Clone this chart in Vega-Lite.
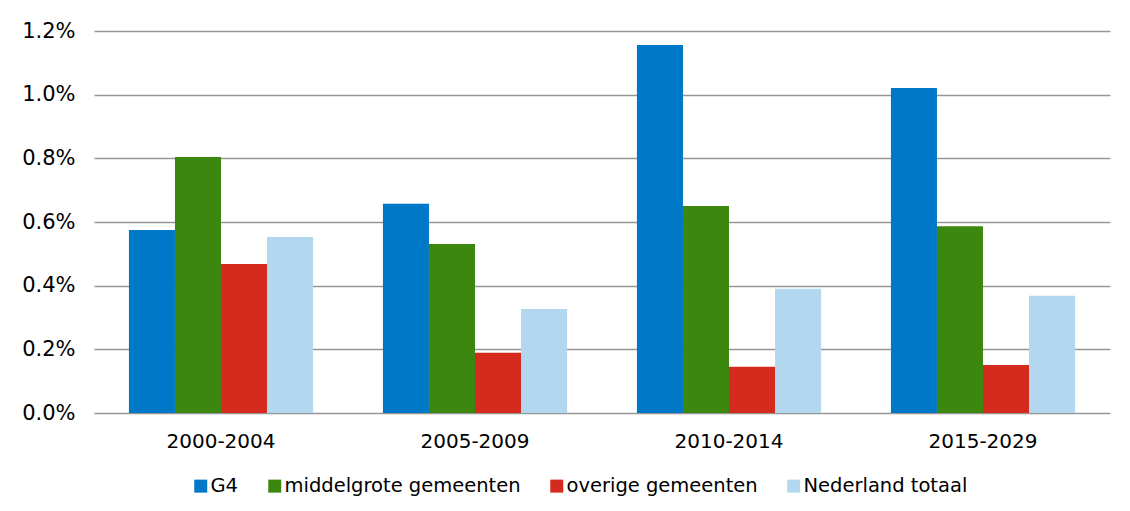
{
  "$schema": "https://vega.github.io/schema/vega-lite/v6.json",
  "width": 1016,
  "height": 382,
  "autosize": {"type": "none"},
  "padding": {"left": 94, "top": 31, "right": 20, "bottom": 98},
  "background": "white",
  "config": {
    "font": "DejaVu Sans",
    "view": {"stroke": null}
  },
  "data": {
    "values": [
      {"period": "2000-2004", "series": "G4", "value": 0.00575},
      {"period": "2000-2004", "series": "middelgrote gemeenten", "value": 0.00804},
      {"period": "2000-2004", "series": "overige gemeenten", "value": 0.00468},
      {"period": "2000-2004", "series": "Nederland totaal", "value": 0.00553},
      {"period": "2005-2009", "series": "G4", "value": 0.00657},
      {"period": "2005-2009", "series": "middelgrote gemeenten", "value": 0.00531},
      {"period": "2005-2009", "series": "overige gemeenten", "value": 0.00189},
      {"period": "2005-2009", "series": "Nederland totaal", "value": 0.00327},
      {"period": "2010-2014", "series": "G4", "value": 0.01156},
      {"period": "2010-2014", "series": "middelgrote gemeenten", "value": 0.0065},
      {"period": "2010-2014", "series": "overige gemeenten", "value": 0.00145},
      {"period": "2010-2014", "series": "Nederland totaal", "value": 0.0039},
      {"period": "2015-2029", "series": "G4", "value": 0.01021},
      {"period": "2015-2029", "series": "middelgrote gemeenten", "value": 0.00587},
      {"period": "2015-2029", "series": "overige gemeenten", "value": 0.00151},
      {"period": "2015-2029", "series": "Nederland totaal", "value": 0.00368}
    ]
  },
  "mark": {"type": "bar"},
  "encoding": {
    "x": {
      "field": "period",
      "type": "nominal",
      "sort": null,
      "scale": {"paddingInner": 0.275, "paddingOuter": 0.1375},
      "axis": {
        "title": null,
        "labelAngle": 0,
        "ticks": false,
        "domain": false,
        "labelFontSize": 20,
        "labelColor": "#000000",
        "labelPadding": 18
      }
    },
    "xOffset": {
      "field": "series",
      "type": "nominal",
      "sort": ["G4", "middelgrote gemeenten", "overige gemeenten", "Nederland totaal"],
      "scale": {"paddingInner": 0, "paddingOuter": 0}
    },
    "y": {
      "field": "value",
      "type": "quantitative",
      "scale": {"domain": [0, 0.012], "nice": false},
      "axis": {
        "title": null,
        "format": ".1%",
        "values": [0, 0.002, 0.004, 0.006, 0.008, 0.01, 0.012],
        "ticks": false,
        "domain": false,
        "labelFontSize": 21,
        "labelColor": "#000000",
        "labelPadding": 19,
        "gridColor": "#969696",
        "gridWidth": 1.5
      }
    },
    "color": {
      "field": "series",
      "type": "nominal",
      "sort": ["G4", "middelgrote gemeenten", "overige gemeenten", "Nederland totaal"],
      "scale": {
        "domain": ["G4", "middelgrote gemeenten", "overige gemeenten", "Nederland totaal"],
        "range": ["#0078c8", "#3b870f", "#d52b1f", "#b3d7ef"]
      },
      "legend": {
        "title": null,
        "orient": "none",
        "legendX": 97,
        "legendY": 445,
        "direction": "horizontal",
        "symbolType": "square",
        "symbolSize": 169,
        "symbolStrokeWidth": 0,
        "labelFontSize": 19.5,
        "labelLimit": 0,
        "labelColor": "#000000",
        "labelOffset": 0,
        "columnPadding": 26
      }
    }
  }
}
